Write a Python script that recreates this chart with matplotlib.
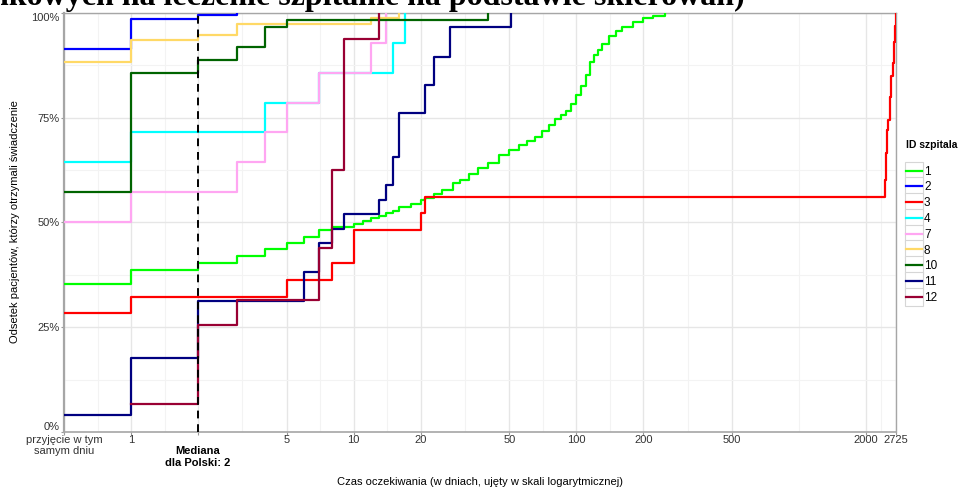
import matplotlib.pyplot as plt
from matplotlib.legend_handler import HandlerLine2D
from matplotlib.patches import Rectangle

plt.rcParams['font.family'] = ['Liberation Sans', 'DejaVu Sans']

# same-day admission (0 days) is drawn at 0.5 on the log axis
SAME_DAY = 0.5

hospitals = ['1', '2', '3', '4', '7', '8', '10', '11', '12']
colors = ['#00FF00', '#0000FF', '#FF0000', '#00FFFF', '#FFA6F2',
          '#FFD966', '#006400', '#000080', '#990033']

days_1 = [0, 1, 2, 3, 4, 5, 6, 7, 8, 10, 11, 12, 13, 14, 15, 16, 18, 20, 21, 23,
          25, 28, 30, 33, 36, 40, 45, 50, 55, 60, 65, 70, 75, 80, 85, 90, 95, 100,
          105, 110, 115, 120, 125, 130, 140, 150, 160, 180, 200, 220, 250]
pct_1 = [35.3, 38.7, 40.4, 42.0, 43.7, 45.1, 46.5, 48.2, 48.9, 49.6, 50.3, 51.0,
         51.6, 52.2, 52.8, 53.6, 54.4, 55.3, 55.9, 56.8, 57.8, 59.4, 60.2, 61.5,
         62.9, 64.3, 66.0, 67.4, 68.4, 69.4, 70.5, 71.8, 73.3, 74.6, 75.6, 76.7,
         78.4, 80.4, 82.6, 85.2, 88.2, 90.0, 91.2, 92.7, 94.6, 95.8, 96.6, 97.9,
         98.7, 99.3, 100.0]

days_2 = [0, 1, 2, 3]
pct_2 = [91.4, 98.6, 99.5, 100.0]

days_3 = [0, 1, 5, 8, 10, 20, 21, 2430, 2450, 2480, 2520, 2560, 2600, 2640,
          2680, 2700, 2725]
pct_3 = [28.4, 32.2, 36.3, 40.3, 48.2, 52.3, 56.1, 60.1, 66.6, 72.0, 74.5,
         80.0, 85.0, 88.0, 93.0, 97.0, 100.0]

days_4 = [0, 1, 4, 7, 15, 17]
pct_4 = [64.4, 71.6, 78.5, 85.7, 92.8, 100.0]

days_7 = [0, 1, 3, 4, 5, 7, 12, 14]
pct_7 = [50.1, 57.3, 64.4, 71.6, 78.5, 85.7, 92.8, 100.0]

days_8 = [0, 1, 2, 3, 12, 16]
pct_8 = [88.3, 93.6, 94.7, 97.4, 98.8, 100.0]

days_10 = [0, 1, 2, 3, 4, 5, 40]
pct_10 = [57.3, 85.7, 88.8, 91.9, 96.7, 98.3, 100.0]

days_11 = [0, 1, 2, 6, 7, 8, 9, 13, 14, 15, 16, 21, 23, 27, 51]
pct_11 = [4.1, 17.7, 31.3, 38.2, 45.1, 48.4, 52.0, 55.4, 59.0, 65.6, 76.1,
          82.8, 89.5, 96.7, 100.0]

days_12 = [1, 2, 3, 7, 8, 9, 13]
pct_12 = [6.7, 25.5, 31.5, 44.0, 62.5, 93.8, 100.0]

series = [(days_1, pct_1), (days_2, pct_2), (days_3, pct_3), (days_4, pct_4),
          (days_7, pct_7), (days_8, pct_8), (days_10, pct_10),
          (days_11, pct_11), (days_12, pct_12)]

x_breaks = [SAME_DAY, 1, 2, 5, 10, 20, 50, 100, 200, 500, 2000, 2725]
x_labels = ['przyjęcie w tym\nsamym dniu', '1', '\nMediana\ndla Polski: 2', '5',
            '10', '20', '50', '100', '200', '500', '2000', '2725']
median_days = 2
y_breaks = [0, 25, 50, 75, 100]
y_labels = ['0%', '25%', '50%', '75%', '100%']


class BoxedLine(HandlerLine2D):
    def create_artists(self, legend, orig_handle, xdescent, ydescent,
                       width, height, fontsize, trans):
        arts = super().create_artists(legend, orig_handle, xdescent, ydescent,
                                      width, height, fontsize, trans)
        box = Rectangle((-xdescent - 1, -ydescent - 3.5), width + 2, height + 7,
                        fc='white', ec='#D6D6D6', lw=0.8, transform=trans)
        return [box] + list(arts)


fig = plt.figure(figsize=(9.6, 4.88), dpi=100)
ax = fig.add_axes([64 / 960, 1 - 432 / 488, 832 / 960, 419 / 488])

for (d, p), name, col in zip(series, hospitals, colors):
    xs = [SAME_DAY if v == 0 else v for v in d]
    ax.step(xs, p, where='post', color=col, lw=1.6, label=name, zorder=3)

ax.axvline(median_days, color='black', lw=1.4, ls=(0, (4, 3)), zorder=5)

ax.set_xscale('log')
ax.set_xlim(SAME_DAY, 2725)
ax.set_ylim(0, 100)

ax.set_xticks(x_breaks)
ax.set_xticklabels(x_labels, fontsize=8, color='#333333')
minor_x = [(a * b) ** 0.5 for a, b in zip(x_breaks[:-1], x_breaks[1:])]
ax.set_xticks(minor_x, minor=True)
ax.set_xticklabels([], minor=True)
for lab in ax.get_xticklabels():
    if 'Mediana' in lab.get_text():
        lab.set_fontweight('bold')
        lab.set_color('black')

ax.set_yticks(y_breaks)
ax.set_yticklabels(y_labels, fontsize=8, color='#333333')
ax.set_yticks([12.5, 37.5, 62.5, 87.5], minor=True)
ylabs = ax.get_yticklabels()
ylabs[0].set_va('bottom')
ylabs[-1].set_va('top')

ax.grid(True, which='major', color='#E6E6E6', lw=1.0, zorder=0)
ax.grid(True, which='minor', color='#F3F3F3', lw=0.8, zorder=0)
ax.set_axisbelow(True)
ax.tick_params(which='major', length=2, color='#999999')
ax.tick_params(axis='x', which='major', pad=0)
ax.tick_params(axis='y', which='major', pad=1)
ax.tick_params(which='minor', length=0)
for s in ax.spines.values():
    s.set_color('#A6A6A6')
    s.set_linewidth(1.0)
ax.spines['left'].set_linewidth(1.6)
ax.spines['bottom'].set_linewidth(1.2)

fig.text(15 / 960, 1 - 222 / 488, 'Odsetek pacjentów, którzy otrzymali świadczenie',
         rotation=90, ha='center', va='center', fontsize=8)
fig.text(480 / 960, 1 - 482 / 488,
         'Czas oczekiwania (w dniach, ujęty w skali logarytmicznej)',
         ha='center', va='center', fontsize=8)

fig.text(-9 / 960, 1 - 5 / 488, 'nkowych na leczenie szpitalne na podstawie skierowań)',
         family='Liberation Serif', fontweight='bold', fontsize=23, va='baseline')

handles, labels = ax.get_legend_handles_labels()
leg = fig.legend(handles, labels, loc='upper left',
                 bbox_to_anchor=(898 / 960, 1 - 132 / 488), frameon=False,
                 title='ID szpitala\n', fontsize=8.5, handlelength=1.3,
                 handletextpad=0.2, labelspacing=0.32, borderpad=0.2,
                 handler_map={plt.Line2D: BoxedLine()})
leg.get_title().set_fontweight('bold')
leg.get_title().set_fontsize(7.5)
leg._legend_box.align = 'left'

fig.savefig('out.png', dpi=100)
